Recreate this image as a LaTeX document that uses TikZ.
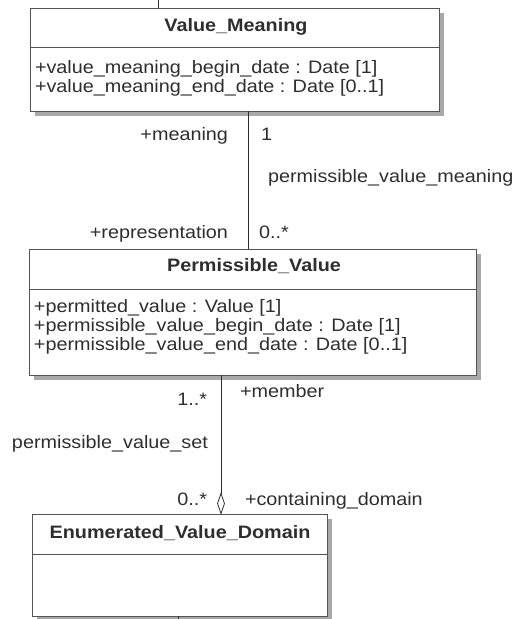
\documentclass[tikz,border=0pt]{standalone}
\usepackage{fontspec}
\setmainfont{Liberation Sans}[FakeStretch=1.1]
\usetikzlibrary{calc,shapes.geometric}
\definecolor{inkc}{HTML}{2E2E2E}
\definecolor{edgec}{HTML}{555555}
\definecolor{shadowgray}{HTML}{A8A8A8}
\begin{document}
\begin{tikzpicture}[x=1pt,y=-1pt,
  every node/.style={inner sep=0pt,outer sep=0pt,text=inkc,font=\fontsize{18}{19}\selectfont},
  shadownode/.style={fill=shadowgray,draw=none,anchor=north west},
  classbox/.style={draw=edgec,line width=0.9pt,fill=white,anchor=north west},
  title/.style={anchor=base,font=\fontsize{18}{19}\selectfont\bfseries},
  attr/.style={anchor=base west},
  lab/.style={anchor=base west},
  labr/.style={anchor=base east},
  conn/.style={draw=inkc,line width=0.9pt},
  divider/.style={draw=edgec,line width=0.9pt},
  aggr/.style={draw=inkc,line width=0.8pt,fill=white,shape=diamond,minimum width=7pt,minimum height=20pt,inner sep=0pt}]
\useasboundingbox (0,0) rectangle (516,619);

% drop shadows
\node[shadownode,minimum width=409pt,minimum height=103pt] (vms) at (35,13) {};
\node[shadownode,minimum width=447pt,minimum height=126pt] (pvs) at (34,254) {};
\node[shadownode,minimum width=295pt,minimum height=102pt] (evds) at (37,519) {};

% class boxes
\node[classbox,minimum width=409pt,minimum height=103pt] (vm) at (30,8) {};
\node[classbox,minimum width=447pt,minimum height=126pt] (pv) at (29,249) {};
\node[classbox,minimum width=295pt,minimum height=102pt] (evd) at (32,514) {};

% Value_Meaning
\draw[divider] ($(vm.north west)+(0,39)$) -- ($(vm.north east)+(0,39)$);
\node[title] (vmt) at (236,31) {Value\_Meaning};
\node[attr] (vma1) at (35,73) {+value\_meaning\_begin\_date : Date [1]};
\node[attr] (vma2) at (35,92) {+value\_meaning\_end\_date : Date [0..1]};
\coordinate (vmtop) at (158,0);
\draw[conn] (vmtop) -- (vmtop |- vm.north);

% Permissible_Value
\draw[divider] ($(pv.north west)+(0,40)$) -- ($(pv.north east)+(0,40)$);
\node[title] (pvt) at (254,271) {Permissible\_Value};
\node[attr] (pva1) at (34,312) {+permitted\_value : Value [1]};
\node[attr] (pva2) at (34,331) {+permissible\_value\_begin\_date : Date [1]};
\node[attr] (pva3) at (34,350) {+permissible\_value\_end\_date : Date [0..1]};

% Enumerated_Value_Domain
\draw[divider] ($(evd.north west)+(0,40)$) -- ($(evd.north east)+(0,40)$);
\node[title] (evdt) at (180,538) {Enumerated\_Value\_Domain};
\coordinate (evdbot) at (178,619);
\draw[conn] (evdbot |- evd.south) -- (evdbot);

% association 1
\coordinate (a1) at (248,0);
\draw[conn] (a1 |- vm.south) -- (a1 |- pv.north);
\node[labr] (l1) at (228,140) {+meaning};
\node[lab] (l2) at (261,140) {1};
\node[lab] (l3) at (268,182) {permissible\_value\_meaning};
\node[labr] (l4) at (228,238) {+representation};
\node[lab] (l5) at (259,238) {0..*};

% association 2 (aggregation)
\node[aggr] (dia) at (221,503.5) {};
\draw[conn] (dia.north |- pv.south) -- (dia.north);
\node[labr] (l6) at (207,405) {1..*};
\node[lab] (l7) at (240,397) {+member};
\node[anchor=base west] (l8) at (12,448) {permissible\_value\_set};
\node[labr] (l9) at (207,505) {0..*};
\node[lab] (l10) at (245,505) {+containing\_domain};
\end{tikzpicture}
\end{document}
